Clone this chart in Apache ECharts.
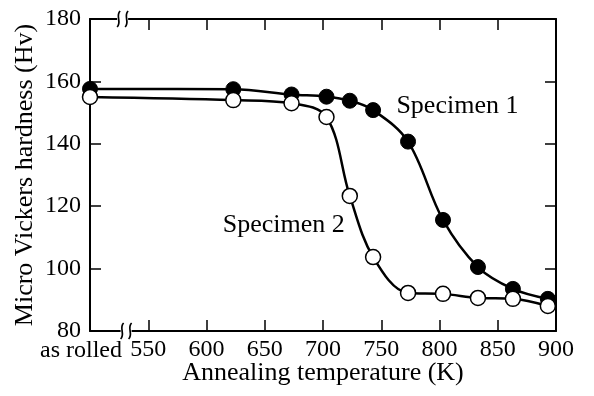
<!DOCTYPE html>
<html>
<head>
<meta charset="utf-8">
<script src="https://cdn.jsdelivr.net/npm/echarts@6/dist/echarts.min.js"></script>
<style>
  html, body { margin: 0; padding: 0; background: #fff; }
  #chart { width: 594px; height: 396px; }
</style>
</head>
<body>
<div id="chart"></div>
<script>
// annealing temperatures (K); 500 stands for the "as rolled" state
const temps = [500, 623, 673, 703, 723, 743, 773, 803, 833, 863, 893];
const specimen1 = [157.6, 157.5, 155.8, 155.1, 153.8, 150.8, 140.7, 115.6, 100.5, 93.5, 90.3];
const specimen2 = [155.0, 154.0, 153.0, 148.6, 123.3, 103.7, 92.2, 91.9, 90.6, 90.3, 88.0];
const seriesNames = ['Specimen 1', 'Specimen 2'];
const asRolledLabel = 'as rolled';
const xTitle = 'Annealing temperature (K)';
const yTitle = 'Micro Vickers hardness (Hv)';

const FONT = '"Liberation Serif", "Times New Roman", serif';
const chart = echarts.init(document.getElementById('chart'));

const lineStyle = { color: '#000', width: 2 };
const tick = { show: true, inside: true, length: 11, lineStyle: { color: '#000', width: 1.5 } };
const label = { color: '#000', fontFamily: FONT, fontSize: 24 };

const option = {
  animation: false,
  grid: { left: 90, right: 38, top: 19, bottom: 65 },
  xAxis: [
    {
      type: 'value', min: 500, max: 900, interval: 50,
      name: xTitle, nameLocation: 'middle', nameGap: 29, nameMoveOverlap: false,
      nameTextStyle: { color: '#000', fontFamily: FONT, fontSize: 26 },
      axisLine: { lineStyle },
      axisTick: tick,
      axisLabel: Object.assign({ margin: 7, showMinLabel: true, showMaxLabel: true,
        formatter: v => (v === 500 ? '' : String(v)) }, label),
      splitLine: { show: false }
    },
    {
      type: 'value', min: 500, max: 900, interval: 50, position: 'top',
      axisLine: { lineStyle },
      axisTick: tick,
      axisLabel: { show: false },
      splitLine: { show: false }
    }
  ],
  yAxis: [
    {
      type: 'value', min: 80, max: 180, interval: 20,
      name: yTitle, nameLocation: 'middle', nameGap: 52, nameMoveOverlap: false,
      nameTextStyle: { color: '#000', fontFamily: FONT, fontSize: 26 },
      axisLine: { show: true, lineStyle },
      axisTick: tick,
      axisLabel: Object.assign({ margin: 9 }, label),
      splitLine: { show: false }
    },
    {
      type: 'value', min: 80, max: 180, interval: 20, position: 'right',
      axisLine: { show: true, lineStyle },
      axisTick: tick,
      axisLabel: { show: false },
      splitLine: { show: false }
    }
  ],
  series: [
    {
      name: seriesNames[0], type: 'line', smooth: 0.35,
      symbol: 'circle', symbolSize: 15,
      lineStyle: { color: '#000', width: 2.5 },
      itemStyle: { color: '#000', borderColor: '#000', borderWidth: 1 },
      data: temps.map((t, i) => [t, specimen1[i]])
    },
    {
      name: seriesNames[1], type: 'line', smooth: 0.35,
      symbol: 'circle', symbolSize: 15,
      lineStyle: { color: '#000', width: 2.5 },
      itemStyle: { color: '#fff', borderColor: '#000', borderWidth: 1.5 },
      data: temps.map((t, i) => [t, specimen2[i]])
    }
  ]
};

chart.setOption(option);

// annotations and axis-break marks, placed through the axes
const toPx = (x, y) => chart.convertToPixel({ xAxisIndex: 0, yAxisIndex: 0 }, [x, y]);

function breakMark(cx, cy) {
  const s = { stroke: '#000', lineWidth: 1.7, fill: null };
  const curve = dx => ({
    type: 'bezierCurve', z: 100,
    shape: { x1: cx + dx + 1.5, y1: cy - 8, cpx1: cx + dx - 3.5, cpy1: cy - 3,
             cpx2: cx + dx + 3.5, cpy2: cy + 3, x2: cx + dx - 1.5, y2: cy + 8 },
    style: s
  });
  return [
    { type: 'rect', z: 99, shape: { x: cx - 5.5, y: cy - 3, width: 11, height: 6 }, style: { fill: '#fff' } },
    curve(-4), curve(4)
  ];
}

const textEl = (x, y, text, align) => ({
  type: 'text', x, y, z: 100,
  style: { text, fill: '#000', font: '26px ' + FONT, textAlign: align, textVerticalAlign: 'middle' }
});

const pBot = toPx(531, 80);
const pTop = toPx(528, 180);
const pAsRolled = toPx(500, 80);
const p1 = toPx(763, 152);
const p2 = toPx(614, 114);

chart.setOption({
  graphic: [
    ...breakMark(pBot[0], pBot[1]),
    ...breakMark(pTop[0], pTop[1]),
    {
      type: 'text', x: pAsRolled[0] + 32, y: pAsRolled[1] + 20, z: 100,
      style: { text: asRolledLabel, fill: '#000', font: '24px ' + FONT, textAlign: 'right', textVerticalAlign: 'middle' }
    },
    textEl(p1[0], p1[1], seriesNames[0], 'left'),
    textEl(p2[0], p2[1], seriesNames[1], 'left')
  ]
});
</script>
</body>
</html>
